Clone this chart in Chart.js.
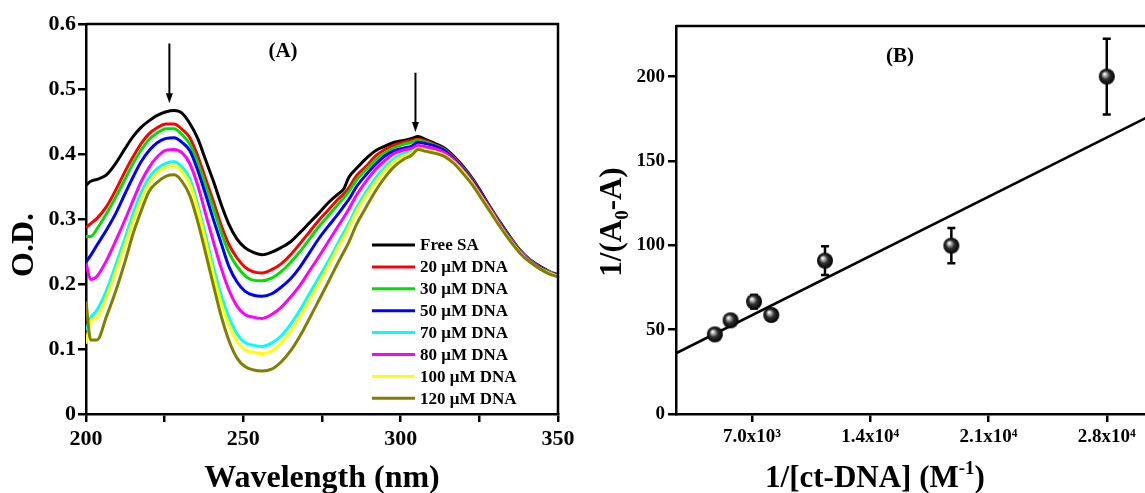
<!DOCTYPE html>
<html><head><meta charset="utf-8">
<script src="https://cdn.jsdelivr.net/npm/chart.js@4.4.1/dist/chart.umd.min.js"></script>
<style>
html,body{margin:0;padding:0;background:#fff;overflow:hidden;width:1145px;height:493px}
#ca{position:absolute;left:0;top:0}
#cb{position:absolute;left:590px;top:0}
</style></head><body>
<canvas id="ca" width="590" height="493"></canvas>
<canvas id="cb" width="600" height="493"></canvas>
<script>
// ---------- Panel A data ----------
const wavelengths = [200,201.5,203.5,206.5,209.5,212.5,215,217.5,220,222.5,225.5,228,230.5,233,235.5,238,240.5,243,245.5,248,250.5,253,256,259,262,265,268,271,274,277,280,282,283.5,286,289,292,295,298,301,303.5,305.5,308,311,314,317,320,323,326,329,332,335,338,341,344,347,350];
const freeSA = [0.352,0.358,0.361,0.368,0.386,0.409,0.427,0.441,0.451,0.459,0.465,0.467,0.463,0.447,0.424,0.391,0.358,0.322,0.291,0.269,0.256,0.249,0.245,0.249,0.256,0.265,0.279,0.294,0.309,0.325,0.338,0.347,0.364,0.378,0.393,0.405,0.412,0.418,0.421,0.424,0.427,0.422,0.416,0.409,0.396,0.380,0.361,0.338,0.314,0.292,0.271,0.252,0.238,0.228,0.220,0.214];
const dna20 = [0.287,0.293,0.301,0.319,0.345,0.374,0.396,0.416,0.431,0.440,0.446,0.446,0.438,0.425,0.397,0.362,0.327,0.290,0.260,0.240,0.226,0.219,0.217,0.222,0.231,0.245,0.262,0.280,0.298,0.314,0.330,0.339,0.348,0.367,0.381,0.397,0.407,0.414,0.418,0.421,0.423,0.420,0.414,0.407,0.394,0.378,0.359,0.336,0.313,0.290,0.270,0.251,0.237,0.227,0.219,0.213];
const dna30 = [0.273,0.273,0.285,0.308,0.334,0.362,0.386,0.406,0.422,0.432,0.439,0.439,0.430,0.415,0.387,0.352,0.316,0.279,0.248,0.227,0.213,0.206,0.205,0.209,0.219,0.233,0.250,0.269,0.288,0.305,0.322,0.333,0.342,0.360,0.376,0.391,0.402,0.410,0.415,0.418,0.421,0.418,0.413,0.406,0.393,0.377,0.358,0.335,0.312,0.290,0.269,0.251,0.237,0.226,0.219,0.213];
const dna50 = [0.234,0.244,0.260,0.283,0.309,0.340,0.365,0.388,0.405,0.417,0.424,0.425,0.418,0.405,0.375,0.338,0.299,0.262,0.226,0.203,0.189,0.183,0.181,0.185,0.195,0.208,0.226,0.248,0.270,0.289,0.307,0.320,0.330,0.350,0.368,0.384,0.397,0.405,0.409,0.412,0.418,0.416,0.412,0.405,0.392,0.376,0.357,0.335,0.312,0.289,0.268,0.250,0.236,0.226,0.218,0.213];
const dna70 = [0.129,0.148,0.160,0.190,0.230,0.272,0.309,0.340,0.363,0.377,0.386,0.388,0.380,0.362,0.322,0.275,0.226,0.182,0.148,0.123,0.110,0.106,0.104,0.109,0.120,0.138,0.160,0.185,0.210,0.235,0.262,0.280,0.293,0.318,0.342,0.363,0.380,0.393,0.401,0.405,0.411,0.409,0.406,0.400,0.389,0.373,0.354,0.332,0.310,0.287,0.266,0.248,0.235,0.225,0.217,0.212];
const dna80 = [0.232,0.207,0.212,0.236,0.267,0.300,0.329,0.357,0.379,0.395,0.406,0.407,0.402,0.385,0.352,0.308,0.265,0.224,0.190,0.166,0.153,0.149,0.147,0.153,0.164,0.180,0.198,0.220,0.242,0.265,0.288,0.303,0.315,0.337,0.358,0.376,0.390,0.401,0.406,0.409,0.413,0.411,0.408,0.402,0.390,0.374,0.355,0.333,0.311,0.288,0.267,0.249,0.235,0.225,0.218,0.212];
const dna100 = [0.108,0.143,0.148,0.180,0.220,0.262,0.298,0.330,0.355,0.370,0.380,0.382,0.373,0.354,0.315,0.266,0.215,0.170,0.136,0.112,0.099,0.095,0.093,0.097,0.109,0.127,0.150,0.175,0.201,0.228,0.256,0.273,0.287,0.312,0.336,0.357,0.375,0.389,0.397,0.402,0.409,0.406,0.403,0.398,0.387,0.372,0.353,0.331,0.309,0.286,0.266,0.248,0.234,0.224,0.217,0.212];
const dna120 = [0.173,0.114,0.114,0.150,0.190,0.236,0.278,0.312,0.342,0.356,0.366,0.368,0.358,0.336,0.296,0.248,0.198,0.150,0.112,0.086,0.073,0.068,0.066,0.069,0.080,0.097,0.120,0.147,0.175,0.203,0.232,0.250,0.264,0.292,0.318,0.343,0.364,0.381,0.392,0.398,0.407,0.404,0.401,0.396,0.385,0.369,0.351,0.329,0.307,0.285,0.265,0.247,0.234,0.224,0.216,0.211];
const seriesLabels = ['Free SA','20 \u03bcM DNA','30 \u03bcM DNA','50 \u03bcM DNA','70 \u03bcM DNA','80 \u03bcM DNA','100 \u03bcM DNA','120 \u03bcM DNA'];
const seriesColors = ['#000000','#ff0000','#00e000','#0000ff','#00ffff','#ff00ff','#ffff00','#808000'];
const seriesValues = [freeSA,dna20,dna30,dna50,dna70,dna80,dna100,dna120];
const xTicksA = [200,225,250,275,300,325,350];
const yTicksA = [0,0.1,0.2,0.3,0.4,0.5,0.6];
// arrows: wavelength, start OD, tip OD
const arrowX = [226.5,304.7];
const arrowTop = [0.570,0.525];
const arrowTip = [0.478,0.434];

// ---------- Panel B data ----------
const invDNA = [4800,5730,7120,8140,11320,18800,28000];
const invDA = [47.2,55.5,66.6,58.7,90.9,99.8,200];
const errDA = [1.5,1.5,4,1.5,8.5,10.5,22.5];
const fitX = [2500,30500];
const fitY = [36.0,176.4];
const xTicksB = [7000,14000,21000,28000];
const xTickLabelsB = ['7.0x10\u00b3','1.4x10\u2074','2.1x10\u2074','2.8x10\u2074'];
const yTicksB = [0,50,100,150,200];

const SERIF = '"Liberation Serif","Times New Roman",serif';

function drawRich(ctx, parts, x, y, size, rot) {
  ctx.save();
  ctx.translate(x, y);
  if (rot) ctx.rotate(rot);
  const small = Math.round(size * 0.62);
  let total = 0;
  parts.forEach(p => { ctx.font = 'bold ' + (p.s ? small : size) + 'px ' + SERIF; p.w = ctx.measureText(p.t).width; total += p.w; });
  let cx = -total / 2;
  ctx.fillStyle = '#000';
  ctx.textBaseline = 'alphabetic';
  ctx.textAlign = 'left';
  parts.forEach(p => {
    ctx.font = 'bold ' + (p.s ? small : size) + 'px ' + SERIF;
    let dy = 0;
    if (p.s === 'sub') dy = size * 0.22;
    if (p.s === 'sup') dy = -size * 0.42;
    ctx.fillText(p.t, cx, dy);
    cx += p.w;
  });
  ctx.restore();
}

const framePlugin = {
  id: 'frame',
  afterDatasetsDraw(chart) {
    const {ctx, chartArea: a} = chart;
    ctx.save();
    ctx.strokeStyle = '#000';
    ctx.lineWidth = 2.5;
    ctx.beginPath();
    ctx.moveTo(a.left, a.top); ctx.lineTo(a.right, a.top); ctx.lineTo(a.right, a.bottom);
    ctx.stroke();
    ctx.restore();
  }
};

function sphere(r) {
  const c = document.createElement('canvas');
  c.width = c.height = 2 * r + 2;
  const g = c.getContext('2d');
  const cx = r + 1, cy = r + 1;
  const grad = g.createRadialGradient(cx - r * 0.3, cy - r * 0.35, r * 0.05, cx, cy, r);
  grad.addColorStop(0, '#ffffff');
  grad.addColorStop(0.2, '#b0b0b0');
  grad.addColorStop(0.5, '#303030');
  grad.addColorStop(1, '#000000');
  g.fillStyle = grad;
  g.beginPath(); g.arc(cx, cy, r, 0, Math.PI * 2); g.fill();
  return c;
}

function axisCommon(extra) {
  return Object.assign({
    grid: {drawOnChartArea: false, drawTicks: true, tickLength: 8, color: '#000', lineWidth: 2.5},
    border: {display: true, color: '#000', width: 2.5},
  }, extra);
}

// ---------- Chart A ----------
const annotA = {
  id: 'annotA',
  afterDraw(chart) {
    const {ctx} = chart;
    const xs = chart.scales.x, ys = chart.scales.y;
    ctx.save();
    // arrows
    ctx.strokeStyle = '#000'; ctx.fillStyle = '#000'; ctx.lineWidth = 2;
    arrowX.forEach((w, i) => {
      const px = xs.getPixelForValue(w);
      const p0 = ys.getPixelForValue(arrowTop[i]);
      const p1 = ys.getPixelForValue(arrowTip[i]);
      ctx.beginPath(); ctx.moveTo(px, p0); ctx.lineTo(px, p1 - 9); ctx.stroke();
      ctx.beginPath(); ctx.moveTo(px - 3.5, p1 - 10); ctx.lineTo(px + 3.5, p1 - 10); ctx.lineTo(px, p1); ctx.closePath(); ctx.fill();
    });
    // (A)
    ctx.font = 'bold 21px ' + SERIF;
    ctx.textAlign = 'center'; ctx.textBaseline = 'middle';
    ctx.fillText('(A)', xs.getPixelForValue(262.6), ys.getPixelForValue(0.557));
    // legend
    ctx.font = 'bold 17px ' + SERIF;
    ctx.textAlign = 'left'; ctx.textBaseline = 'middle';
    seriesLabels.forEach((lab, i) => {
      const y = 245 + i * 21.9;
      ctx.strokeStyle = seriesColors[i]; ctx.lineWidth = 3;
      ctx.beginPath(); ctx.moveTo(372, y); ctx.lineTo(415, y); ctx.stroke();
      ctx.fillStyle = '#000';
      ctx.fillText(lab, 420, y + 1);
    });
    // axis titles
    drawRich(ctx, [{t: 'Wavelength (nm)'}], 322, 487, 32, 0);
    drawRich(ctx, [{t: 'O.D.'}], 33, 245, 32, -Math.PI / 2);
    ctx.restore();
  }
};

new Chart(document.getElementById('ca'), {
  type: 'line',
  data: {
    datasets: seriesValues.map((vals, i) => ({
      label: seriesLabels[i],
      data: wavelengths.map((w, j) => ({x: w, y: vals[j]})),
      borderColor: seriesColors[i],
      borderWidth: 3,
      pointRadius: 0,
      cubicInterpolationMode: 'monotone',
      fill: false
    })).reverse()
  },
  options: {
    responsive: false, animation: false, devicePixelRatio: 1,
    layout: {padding: {left: 0, right: 32, top: 24, bottom: 0}},
    plugins: {legend: {display: false}, tooltip: {enabled: false}},
    scales: {
      x: axisCommon({
        type: 'linear', min: 200, max: 350,
        afterBuildTicks: s => { s.ticks = xTicksA.map(v => ({value: v})); },
        afterFit: s => { s.height = 79; s.paddingLeft = 0; s.paddingRight = 0; },
        ticks: {color: '#000', font: {family: SERIF, size: 22, weight: 'bold'}, padding: 4, maxRotation: 0, autoSkip: false,
          callback: v => (v % 50 === 0 ? String(v) : '')}
      }),
      y: axisCommon({
        type: 'linear', min: 0, max: 0.6,
        afterBuildTicks: s => { s.ticks = yTicksA.map(v => ({value: v})); },
        afterFit: s => { s.width = 86; s.paddingTop = 0; s.paddingBottom = 0; },
        ticks: {color: '#000', font: {family: SERIF, size: 22, weight: 'bold'}, padding: 2,
          callback: v => (v === 0 ? '0' : v.toFixed(1))}
      })
    }
  },
  plugins: [framePlugin, annotA]
});

// ---------- Chart B ----------
const ball = sphere(8);
const annotB = {
  id: 'annotB',
  beforeDatasetsDraw(chart) {
    const {ctx} = chart;
    const xs = chart.scales.x, ys = chart.scales.y;
    ctx.save();
    ctx.strokeStyle = '#000'; ctx.lineWidth = 2.5;
    invDNA.forEach((xv, i) => {
      const px = xs.getPixelForValue(xv);
      const pt = ys.getPixelForValue(invDA[i] + errDA[i]);
      const pb = ys.getPixelForValue(invDA[i] - errDA[i]);
      ctx.beginPath();
      ctx.moveTo(px, pt); ctx.lineTo(px, pb);
      ctx.moveTo(px - 4, pt); ctx.lineTo(px + 4, pt);
      ctx.moveTo(px - 4, pb); ctx.lineTo(px + 4, pb);
      ctx.stroke();
    });
    ctx.restore();
  },
  afterDraw(chart) {
    const {ctx} = chart;
    const xs = chart.scales.x, ys = chart.scales.y;
    ctx.save();
    ctx.font = 'bold 21px ' + SERIF;
    ctx.fillStyle = '#000';
    ctx.textAlign = 'center'; ctx.textBaseline = 'middle';
    ctx.fillText('(B)', xs.getPixelForValue(15765), ys.getPixelForValue(211.7));
    drawRich(ctx, [{t: '1/[ct-DNA] (M'}, {t: '-1', s: 'sup'}, {t: ')'}], 875 - 590, 487, 31, 0);
    drawRich(ctx, [{t: '1/(A'}, {t: '0', s: 'sub'}, {t: '-A)'}], 621 - 590, 222, 31, -Math.PI / 2);
    ctx.restore();
  }
};

new Chart(document.getElementById('cb'), {
  type: 'scatter',
  data: {
    datasets: [
      {
        type: 'line',
        data: fitX.map((x, i) => ({x: x, y: fitY[i]})),
        borderColor: '#000', borderWidth: 2.5, pointRadius: 0, fill: false, tension: 0, order: 2
      },
      {
        data: invDNA.map((x, i) => ({x: x, y: invDA[i]})),
        pointStyle: ball, pointRadius: 8, order: 1
      }
    ]
  },
  options: {
    responsive: false, animation: false, devicePixelRatio: 1,
    layout: {padding: {left: 0, right: 41, top: 26, bottom: 0}},
    plugins: {legend: {display: false}, tooltip: {enabled: false}},
    scales: {
      x: axisCommon({
        type: 'linear', min: 2500, max: 30500,
        afterBuildTicks: s => { s.ticks = xTicksB.map(v => ({value: v})); },
        afterFit: s => { s.height = 79; s.paddingLeft = 0; s.paddingRight = 0; },
        ticks: {color: '#000', font: {family: SERIF, size: 19, weight: 'bold'}, padding: 4, maxRotation: 0, autoSkip: false,
          callback: (v, i) => xTickLabelsB[i]}
      }),
      y: axisCommon({
        type: 'linear', min: 0, max: 230,
        afterBuildTicks: s => { s.ticks = yTicksB.map(v => ({value: v})); },
        afterFit: s => { s.width = 86; s.paddingTop = 0; s.paddingBottom = 0; },
        ticks: {color: '#000', font: {family: SERIF, size: 19, weight: 'bold'}, padding: 3,
          callback: v => String(v)}
      })
    }
  },
  plugins: [framePlugin, annotB]
});
</script>
</body></html>
